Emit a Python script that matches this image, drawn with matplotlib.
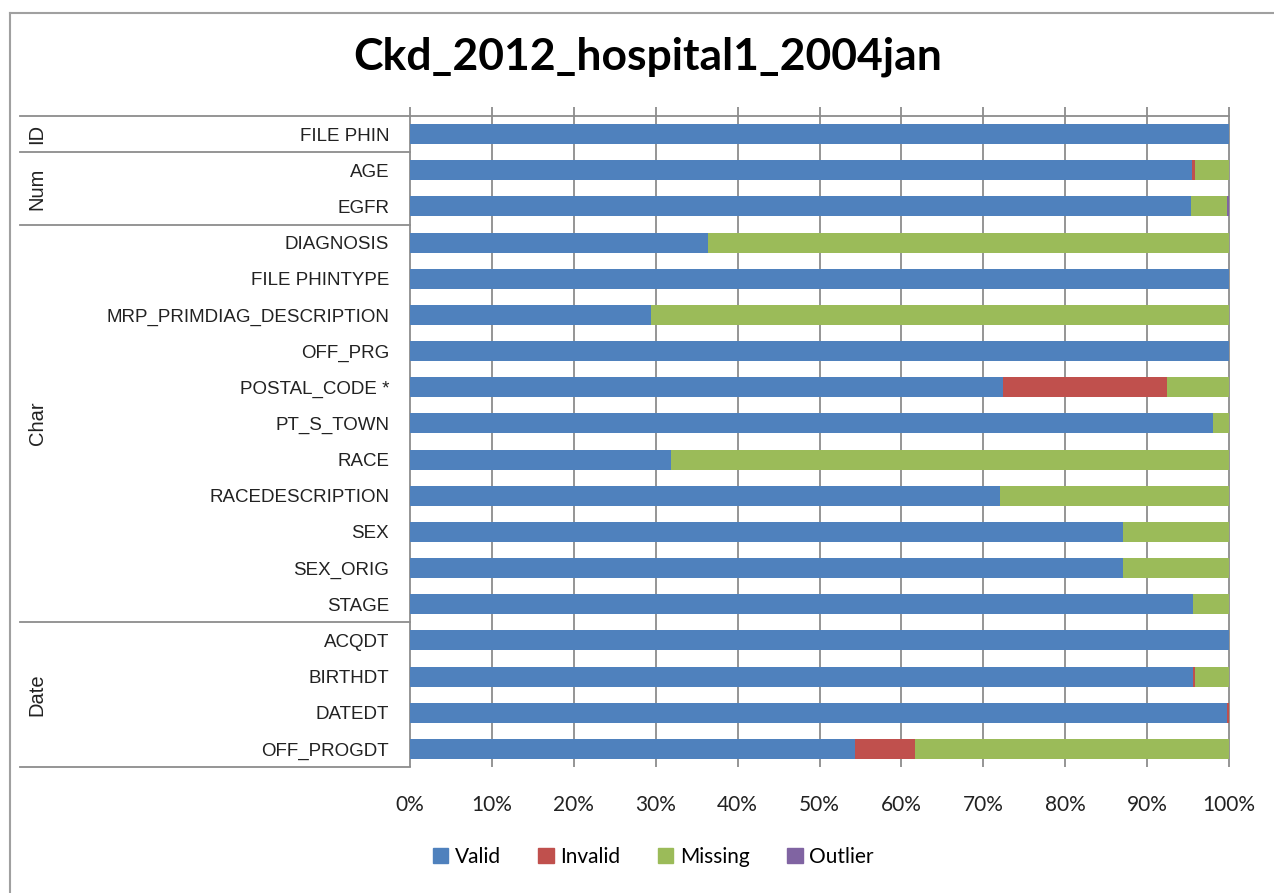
import matplotlib
matplotlib.use("Agg")
import matplotlib.pyplot as plt
import matplotlib.transforms as mtrans
from matplotlib.lines import Line2D
from matplotlib.patches import Patch
from matplotlib.ticker import PercentFormatter
import numpy as np

title = "Ckd_2012_hospital1_2004jan"

variables = ["FILE PHIN", "AGE", "EGFR", "DIAGNOSIS", "FILE PHINTYPE",
             "MRP_PRIMDIAG_DESCRIPTION", "OFF_PRG", "POSTAL_CODE *", "PT_S_TOWN",
             "RACE", "RACEDESCRIPTION", "SEX", "SEX_ORIG", "STAGE",
             "ACQDT", "BIRTHDT", "DATEDT", "OFF_PROGDT"]

# groups as (name, number of variables)
groups = [("ID", 1), ("Num", 2), ("Char", 11), ("Date", 4)]

valid   = [100.0, 95.5, 95.3, 36.4, 100.0, 29.4, 100.0, 72.4, 98.0,
           31.9, 72.1, 87.0, 87.0, 95.6, 100.0, 95.6, 99.8, 54.3]
invalid = [0.0, 0.3, 0.0, 0.0, 0.0, 0.0, 0.0, 20.0, 0.0,
           0.0, 0.0, 0.0, 0.0, 0.0, 0.0, 0.3, 0.2, 7.4]
missing = [0.0, 4.2, 4.4, 63.6, 0.0, 70.6, 0.0, 7.6, 2.0,
           68.1, 27.9, 13.0, 13.0, 4.4, 0.0, 4.1, 0.0, 38.3]
outlier = [0.0, 0.0, 0.3, 0.0, 0.0, 0.0, 0.0, 0.0, 0.0,
           0.0, 0.0, 0.0, 0.0, 0.0, 0.0, 0.0, 0.0, 0.0]

series = [("Valid", valid, "#4F81BD"), ("Invalid", invalid, "#C0504D"),
          ("Missing", missing, "#9BBB59"), ("Outlier", outlier, "#8064A2")]

W, H = 1274, 893
fig = plt.figure(figsize=(W / 100, H / 100), dpi=100)
ax = fig.add_axes([410 / W, 1 - 767 / H, (1229 - 410) / W, (767 - 116) / H])

y = np.arange(len(variables))
left = np.zeros(len(variables))
for name, vals, col in series:
    vals = np.array(vals)
    ax.barh(y, vals, left=left, height=0.55, color=col, zorder=3, label=name)
    left += vals

ax.set_xlim(0, 100)
ax.set_ylim(len(variables) - 0.5, -0.5)
ax.set_yticks(y)
ax.set_yticklabels(variables, family="Liberation Sans", fontsize=13.5, color="#222222")
ax.tick_params(axis="y", length=0, pad=15)
ax.set_xticks(np.arange(0, 101, 10))
ax.xaxis.set_major_formatter(PercentFormatter(decimals=0))
ax.tick_params(axis="x", length=0, pad=20, labelsize=15, colors="#222222")
for lab in ax.get_xticklabels():
    lab.set_family("Lato")
for s in ax.spines.values():
    s.set_visible(False)

# vertical gridlines, sticking a bit above the top line
ax.vlines(np.arange(0, 101, 10), 0, 1 + 9 / 651, transform=ax.get_xaxis_transform(),
          color="#8C8C8C", lw=1.3, zorder=1, clip_on=False)

# category group separators and labels
bt = mtrans.blended_transform_factory(fig.transFigure, ax.transData)
x0 = 20 / W
x1 = 410 / W
start = -0.5
ax.add_line(Line2D([x0, 1229 / W], [start, start], transform=bt, color="#8C8C8C",
                   lw=1.3, clip_on=False))
for name, n in groups:
    end = start + n
    ax.add_line(Line2D([x0, x1], [end, end], transform=bt, color="#8C8C8C",
                       lw=1.3, clip_on=False))
    ax.text(37 / W, (start + end) / 2, name, transform=bt, rotation=90,
            ha="center", va="center", fontsize=14.5, family="Liberation Sans",
            color="#222222")
    start = end

# chart frame
fig.add_artist(Line2D([10 / W, 10 / W], [0, 1 - 13 / H], color="#A0A0A0", lw=1.5))
fig.add_artist(Line2D([10 / W, 1], [1 - 13 / H, 1 - 13 / H], color="#A0A0A0", lw=1.5))

fig.text(648 / W, 1 - 57 / H, title, ha="center", va="center",
         fontsize=32, fontweight="bold", family="Lato")

handles = [Patch(facecolor=c, edgecolor=c) for _, _, c in series]
fig.legend(handles, [n for n, _, _ in series], loc="center",
           bbox_to_anchor=(653 / W, 1 - 857 / H), ncol=4, frameon=False,
           prop={"family": "Lato", "size": 15},
           handlelength=0.75, handleheight=0.75, handletextpad=0.3, columnspacing=1.8)

fig.savefig("out.png", dpi=100)
